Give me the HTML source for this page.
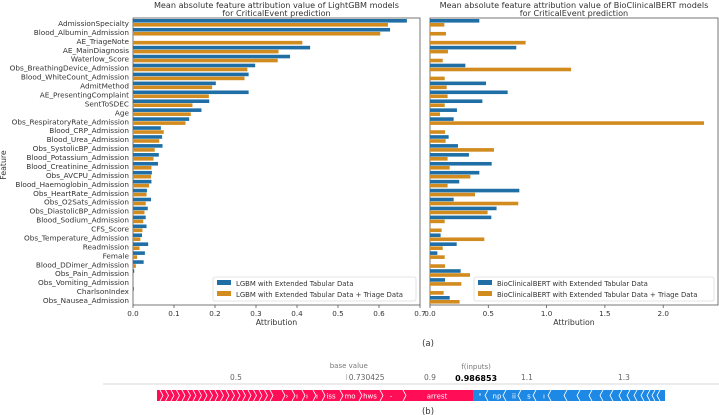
<!DOCTYPE html>
<html><head><meta charset="utf-8"><style>
body{margin:0;background:#fff;}
svg{display:block;font-family:"DejaVu Sans","Liberation Sans",sans-serif;}
</style></head><body>
<svg id="root" width="719" height="415" viewBox="0 0 719 415"></svg>
<script>
const features=["AdmissionSpecialty","Blood_Albumin_Admission","AE_TriageNote","AE_MainDiagnosis","Waterlow_Score","Obs_BreathingDevice_Admission","Blood_WhiteCount_Admission","AdmitMethod","AE_PresentingComplaint","SentToSDEC","Age","Obs_RespiratoryRate_Admission","Blood_CRP_Admission","Blood_Urea_Admission","Obs_SystolicBP_Admission","Blood_Potassium_Admission","Blood_Creatinine_Admission","Obs_AVCPU_Admission","Blood_Haemoglobin_Admission","Obs_HeartRate_Admission","Obs_O2Sats_Admission","Obs_DiastolicBP_Admission","Blood_Sodium_Admission","CFS_Score","Obs_Temperature_Admission","Readmission","Female","Blood_DDimer_Admission","Obs_Pain_Admission","Obs_Vomiting_Admission","CharlsonIndex","Obs_Nausea_Admission"];
const lgbmTab=[0.668,0.627,0,0.432,0.383,0.298,0.282,0.202,0.282,0.186,0.167,0.137,0.068,0.071,0.072,0.063,0.061,0.046,0.045,0.034,0.044,0.036,0.031,0.033,0.022,0.037,0.029,0.026,0.003,0,0.002,0];
const lgbmTri=[0.622,0.603,0.413,0.355,0.353,0.279,0.272,0.193,0.185,0.145,0.141,0.128,0.075,0.064,0.053,0.050,0.045,0.044,0.039,0.033,0.031,0.028,0.025,0.023,0.018,0.016,0.010,0.007,0,0,0,0];
const bertTab=[0.423,0,0,0.74,0,0.303,0,0.48,0.666,0.449,0.231,0.203,0,0.16,0.24,0.334,0.529,0.423,0.251,0.766,0.203,0.571,0.526,0,0.091,0.229,0.063,0,0.263,0.129,0,0.169];
const bertTri=[0.123,0.137,0.82,0.154,0.109,1.21,0.126,0.143,0.151,0.126,0.086,2.35,0.129,0.134,0.549,0.151,0.169,0.346,0.151,0.386,0.757,0.494,0.126,0.1,0.466,0.109,0.126,0.129,0.343,0.269,0.117,0.254];
const lTicks=[0,0.1,0.2,0.3,0.4,0.5,0.6,0.7];
const rTicks=[0,0.5,1.0,1.5,2.0];
const forceTicks=[0.5,0.7,0.9,1.1,1.3];

const NS="http://www.w3.org/2000/svg";
const svgRoot=document.getElementById('root');
function mk(tag,attrs,parent,text){const e=document.createElementNS(NS,tag);for(const k in attrs)e.setAttribute(k,attrs[k]);if(text!==undefined)e.textContent=text;(parent||svgRoot).appendChild(e);return e;}
const BLUE="#1f6fa6",ORANGE="#d18b1e";
const TOPY=18,BOTY=305;
const rowY=i=>TOPY+5+i*((BOTY-TOPY-10)/(features.length-1));
const lx=v=>133+v*410;
const rx=v=>430+v*116.6;

function panel(x0,x1,xf,tab,tri,ticks,fmt,name,title1,title2,leg1,leg2,legX){
  const g=mk('g',{});
  
  
  const box=mk('rect',{x:x0,y:TOPY,width:x1-x0,height:BOTY-TOPY,fill:'none',stroke:'#555','stroke-width':0.8},g);
  
  
  const cx=(x0+x1)/2;
  const t1=mk('text',{x:cx,y:8,'font-size':8.1,'text-anchor':'middle',fill:'#333'},g,title1);
  
  
  const t2=mk('text',{x:cx,y:16,'font-size':8.1,'text-anchor':'middle',fill:'#333'},g,title2);
  
  
  features.forEach((f,i)=>{
    const y=rowY(i);
    if(tab[i]>0){const b=mk('rect',{x:x0,y:y-4,width:xf(tab[i])-x0,height:3.6,fill:BLUE},g);
      
      }
    if(tri[i]>0){const b=mk('rect',{x:x0,y:y,width:xf(tri[i])-x0,height:3.6,fill:ORANGE},g);
      
      }
  });
  ticks.forEach(t=>{
    const x=xf(t);
    mk('line',{x1:x,x2:x,y1:BOTY,y2:BOTY+3,stroke:'#555','stroke-width':0.8},g);
    const tl=mk('text',{x:x,y:BOTY+11,'font-size':7.2,'text-anchor':'middle',fill:'#333'},g,fmt(t));
    
    
  });
  const xt=mk('text',{x:cx,y:BOTY+20,'font-size':7.8,'text-anchor':'middle',fill:'#333'},g,'Attribution');
  
  
  const lg=mk('g',{},g);
  
  
  mk('rect',{x:legX,y:277,width:x1-4-legX,height:24,fill:'#fff',stroke:'#ddd','stroke-width':0.8,rx:2},lg);
  mk('rect',{x:legX+4,y:280,width:14,height:5,fill:BLUE},lg);
  mk('rect',{x:legX+4,y:291,width:14,height:5,fill:ORANGE},lg);
  const e1=mk('text',{x:legX+23,y:286,'font-size':6.9,fill:'#333'},lg,leg1);
  
  
  const e2=mk('text',{x:legX+23,y:297,'font-size':6.9,fill:'#333'},lg,leg2);
  
  
}
panel(133,420,lx,lgbmTab,lgbmTri,lTicks,t=>t.toFixed(1),'lightgbm-panel','Mean absolute feature attribution value of LightGBM models','for CriticalEvent prediction','LGBM with Extended Tabular Data','LGBM with Extended Tabular Data + Triage Data',213);
panel(430,718,rx,bertTab,bertTri,rTicks,t=>t.toFixed(1),'bioclinicalbert-panel','Mean absolute feature attribution value of BioClinicalBERT models','for CriticalEvent prediction','BioClinicalBERT with Extended Tabular Data','BioClinicalBERT with Extended Tabular Data + Triage Data',474);

features.forEach((f,i)=>{
  const t=mk('text',{x:129,y:rowY(i)+3,'font-size':7.3,'text-anchor':'end',fill:'#333'},svgRoot,f);
  
  
});
const yt=mk('text',{x:6,y:165,'font-size':7.8,'text-anchor':'middle',fill:'#333',transform:'rotate(-90 6 165)'},svgRoot,'Feature');


const ca=mk('text',{x:428,y:346,'font-size':8.5,'text-anchor':'middle',fill:'#333'},svgRoot,'(a)');



const fx=v=>236+(v-0.5)*485;
const fg=mk('g',{});


mk('line',{x1:103,x2:719,y1:384,y2:384,stroke:'#ccc','stroke-width':0.8},fg);
forceTicks.forEach(t=>{
  if(t===0.7)return;
  const tl=mk('text',{x:fx(t),y:380,'font-size':7.5,'text-anchor':'middle',fill:'#666'},fg,String(t));
  
  
});
const bvx=fx(0.730425);
mk('line',{x1:bvx-1,x2:bvx-1,y1:374,y2:380,stroke:'#999','stroke-width':0.6},fg);
const bv=mk('text',{x:bvx+1,y:368,'font-size':7,'text-anchor':'middle',fill:'#777'},fg,'base value');


const bvn=mk('text',{x:bvx+1,y:380,'font-size':7.5,'text-anchor':'start',fill:'#666'},fg,'0.730425');


const outx=fx(0.986853);
const fo=mk('text',{x:outx+4,y:369,'font-size':7,'text-anchor':'middle',fill:'#777'},fg,'f(inputs)');


const fv=mk('text',{x:outx+4,y:381,'font-size':8,'font-weight':'bold','text-anchor':'middle',fill:'#000'},fg,'0.986853');


const redR=mk('rect',{x:157,y:390,width:473-157,height:11,fill:'#ff0d57'},fg);


const bluR=mk('rect',{x:473,y:390,width:665-473,height:11,fill:'#1e88e5'},fg);


const redSep=[];for(let x=160;x<275;x+=5.5)redSep.push(x);
[282,292,302,313,322,340,359,380,403].forEach(v=>redSep.push(v));
redSep.forEach(x=>mk('path',{d:`M${x} 390 L${x+3} 395.5 L${x} 401`,fill:'none',stroke:'#fff','stroke-width':0.8},fg));
[['›',287],['ı',297],['ı',307],['ı',317],['iss',331],['mo',350],['hws',370],['-',391],['arrest',437]].forEach(([t,x])=>mk('text',{x:x,y:398.5,'font-size':7,'text-anchor':'middle',fill:'#fff'},fg,t));
const bluSep=[488,506,521,536,551,567,580,592,603,613,622,630,637,644,650,655,660];
bluSep.forEach(x=>mk('path',{d:`M${x} 390 L${x-3} 395.5 L${x} 401`,fill:'none',stroke:'#fff','stroke-width':0.8},fg));
[['"',480],['np',497],['ii',514],['s',529],['ı',544]].forEach(([t,x])=>mk('text',{x:x,y:398.5,'font-size':7,'text-anchor':'middle',fill:'#fff'},fg,t));
const cb=mk('text',{x:428,y:414,'font-size':8.5,'text-anchor':'middle',fill:'#333'},svgRoot,'(b)');


</script>
</body></html>
